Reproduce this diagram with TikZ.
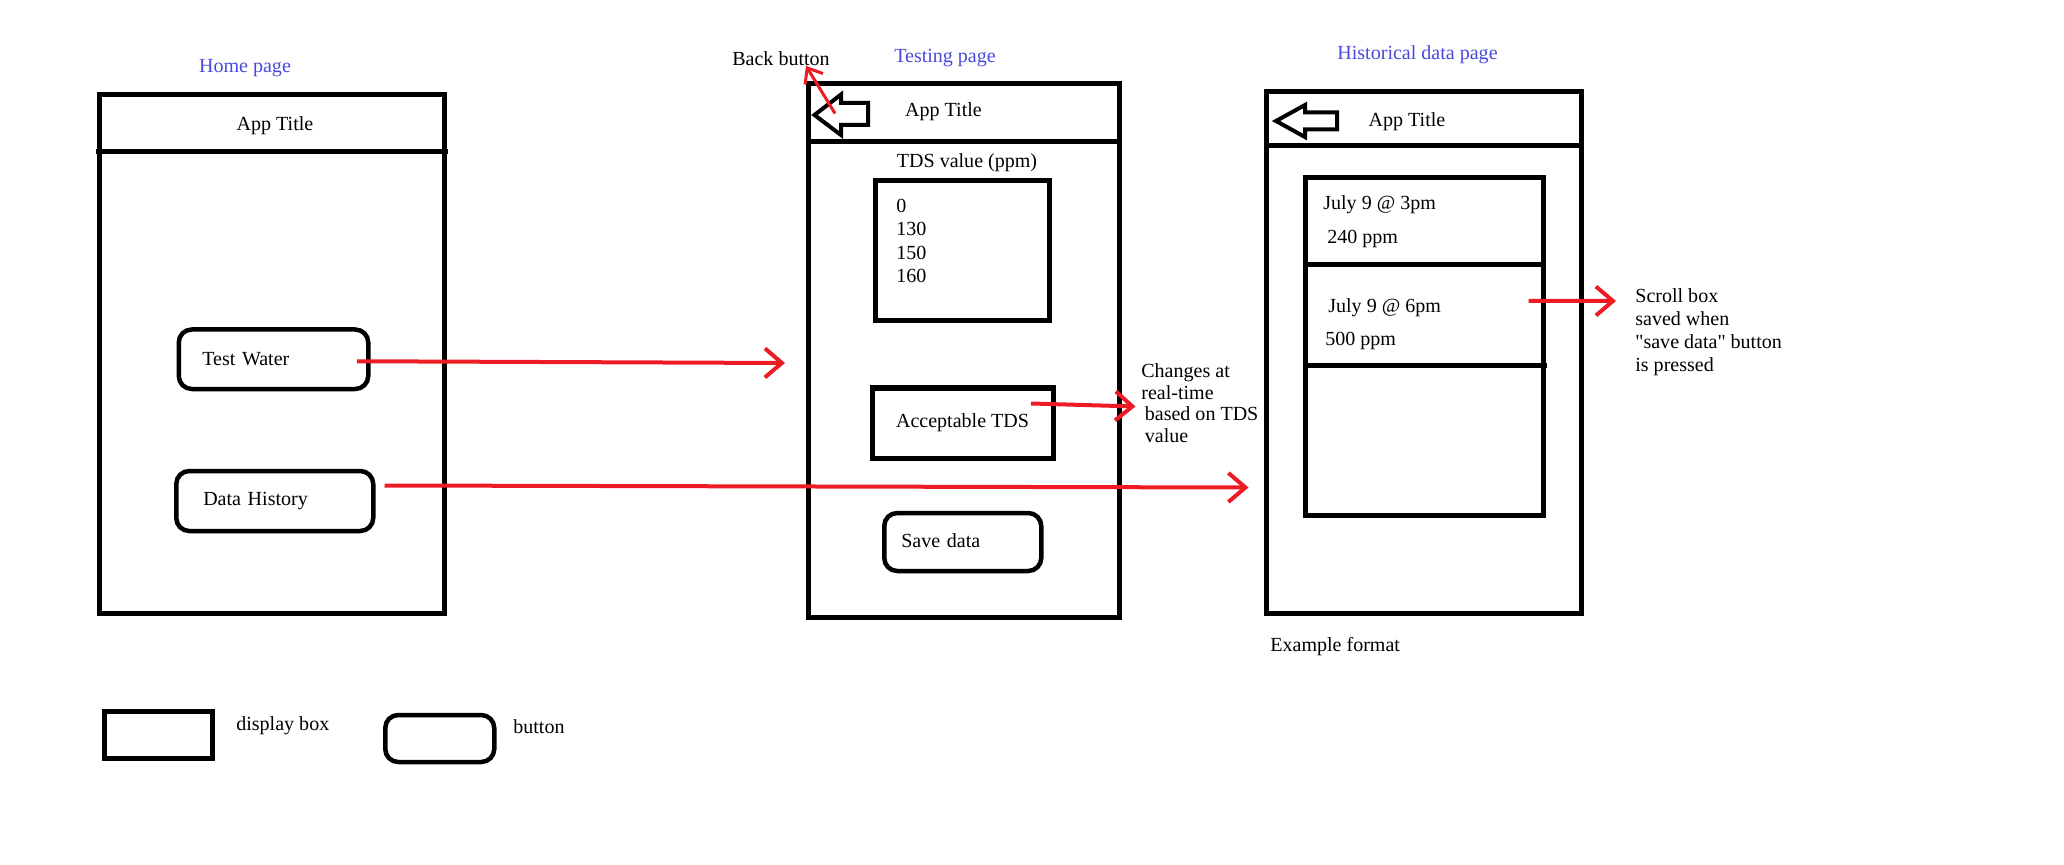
\documentclass[tikz,border=0pt]{standalone}
\usepackage{fontspec}
\setmainfont{Liberation Serif}[Ligatures=TeXOff]
\usetikzlibrary{arrows.meta}
\definecolor{pagename}{RGB}{72,72,222}
\definecolor{flowred}{RGB}{237,28,36}
\tikzset{
  pageframe/.style={line width=0.100cm},
  dispbox/.style={draw, line width=0.100cm, inner sep=0pt},
  btn/.style={draw, line width=0.090cm, rounded corners=0.260cm, anchor=west, align=left, inner ysep=0pt},
  backicon/.style={line width=0.080cm, line join=miter},
  flow/.style={draw=flowred, line width=0.080cm, -{Straight Barb[length=0.340cm,width=0.580cm]}},
  txt/.style={inner sep=0pt},
}
\begin{document}
\begin{tikzpicture}
                    {\fontsize{11.4}{13.2}\selectfont
                    \useasboundingbox (0,0) rectangle (41.280000,17.280000);%

                    % Drawing home page
                    \draw (4.900000,15.920000) node (homeL) [txt, text=pagename] {Home page};%
                    \draw [pageframe] (1.980000,15.380000) rectangle (8.880000,5.020000);%
                    \draw [pageframe] (1.920000,14.250000) -- (8.960000,14.250000);%
                    \draw (5.500000,14.760000) node (homeT) [txt] {App Title};%

                    % Drawing buttons tw and dh
                    \draw (3.530000,10.095000) node (tw) [btn, minimum height=1.190cm, inner xsep=0.470cm, text width=2.850cm] {Test Water};%
                    \draw (3.480000,7.260000) node (dh) [btn, minimum height=1.200cm, inner xsep=0.540cm, text width=2.860cm] {Data History};%

                    % Drawing testing page
                    \draw (18.900000,16.120000) node (testL) [txt, text=pagename] {Testing page};%
                    \draw [pageframe] (16.160000,15.600000) rectangle (22.380000,4.940000);%
                    \draw [pageframe] (16.160000,14.440000) -- (22.380000,14.440000);%
                    \draw [backicon] (16.290000,14.980000) -- (16.820000,15.390000) -- (16.820000,15.220000) -- (17.360000,15.220000) -- (17.360000,14.780000) -- (16.820000,14.780000) -- (16.820000,14.580000) -- cycle;%
                    \coordinate (bkT) at (16.700000,15.010000);%
                    \draw (18.870000,15.050000) node (testT) [txt] {App Title};%
                    \draw (15.620000,16.110000) node (backL) [txt] {Back button};%

                    % Drawing display box tdsBox with values
                    \draw (19.340000,14.020000) node (tdsL) [txt] {TDS value (ppm)};%
                    \draw (19.240000,12.260000) node (tdsBox) [dispbox, minimum width=3.480cm, minimum height=2.800cm] {};%
                    \draw (17.920000,13.300000) node (tdsN) [txt, anchor=north west, align=left] {0\\130\\150\\160};%

                    % Drawing display box acc and button sv
                    \draw (19.250000,8.820000) node (acc) [dispbox, minimum width=3.620cm, minimum height=1.400cm] {Acceptable TDS};%
                    \draw (22.820000,10.020000) node (chg) [txt, anchor=north west, align=left, font=\fontsize{11.4}{12.4}\selectfont] {Changes at\\real-time\\\hspace*{0.07cm}based on TDS\\\hspace*{0.07cm}value};%
                    \draw (17.640000,6.440000) node (sv) [btn, minimum height=1.160cm, inner xsep=0.340cm, text width=2.460cm] {\raisebox{0.06cm}{Save data}};%

                    % Drawing historical data page
                    \draw (28.350000,16.180000) node (histL) [txt, text=pagename] {Historical data page};%
                    \draw [pageframe] (25.320000,15.440000) rectangle (31.620000,5.020000);%
                    \draw [pageframe] (25.320000,14.360000) -- (31.620000,14.360000);%
                    \draw [backicon] (25.520000,14.860000) -- (26.100000,15.180000) -- (26.100000,15.030000) -- (26.740000,15.030000) -- (26.740000,14.690000) -- (26.100000,14.690000) -- (26.100000,14.540000) -- cycle;%
                    \draw (28.140000,14.840000) node (histT) [txt] {App Title};%

                    % Drawing scroll box scr with entries
                    \draw (28.480000,10.350000) node (scr) [dispbox, minimum width=4.760cm, minimum height=6.740cm] {};%
                    \draw [pageframe] (26.100000,11.990000) -- (30.860000,11.990000);%
                    \draw [pageframe] (26.100000,9.960000) -- (30.940000,9.960000);%
                    \draw (26.460000,13.190000) node (e1d) [txt, anchor=west] {July 9 @ 3pm};%
                    \draw (26.540000,12.510000) node (e1v) [txt, anchor=west] {240 ppm};%
                    \draw (26.560000,11.120000) node (e2d) [txt, anchor=west] {July 9 @ 6pm};%
                    \draw (26.500000,10.470000) node (e2v) [txt, anchor=west] {500 ppm};%
                    \draw (32.700000,11.520000) node (scrL) [txt, anchor=north west, align=left] {Scroll box\\saved when\\"save data" button\\is pressed};%
                    \draw (25.400000,4.350000) node (exL) [txt, anchor=west] {Example format};%

                    % Drawing red arrows
                    \coordinate (twEnd) at (15.700000,10.020000);%
                    \coordinate (dhEnd) at (24.970000,7.530000);%
                    \coordinate (accEnd) at (22.710000,9.150000);%
                    \coordinate (scrEnd) at (32.320000,11.260000);%
                    \draw [flow] ([shift={(-0.270,-0.040)}]tw.east) -- (twEnd);%
                    \draw [flow] ([shift={(0.180,0.310)}]dh.east) -- (dhEnd);%
                    \draw [flow] ([shift={(-0.490,0.390)}]acc.east) -- (accEnd);%
                    \draw [flow] ([shift={(-0.340,0.910)}]scr.east) -- (scrEnd);%
                    \draw [flow, line width=0.060cm, -{Straight Barb[length=0.260cm,width=0.420cm]}] (bkT) -- ([xshift=0.500cm]backL.south);%

                    % Drawing legend
                    \draw (3.160000,2.590000) node (dispK) [dispbox, minimum width=2.160cm, minimum height=0.940cm] {};%
                    \draw (4.720000,2.760000) node (dispKL) [txt, anchor=west] {display box};%
                    \draw (7.660000,2.510000) node (btnK) [btn, minimum width=2.180cm, minimum height=0.940cm] {};%
                    \draw (10.260000,2.740000) node (btnKL) [txt, anchor=west] {button};%
                    }
\end{tikzpicture}
\end{document}
